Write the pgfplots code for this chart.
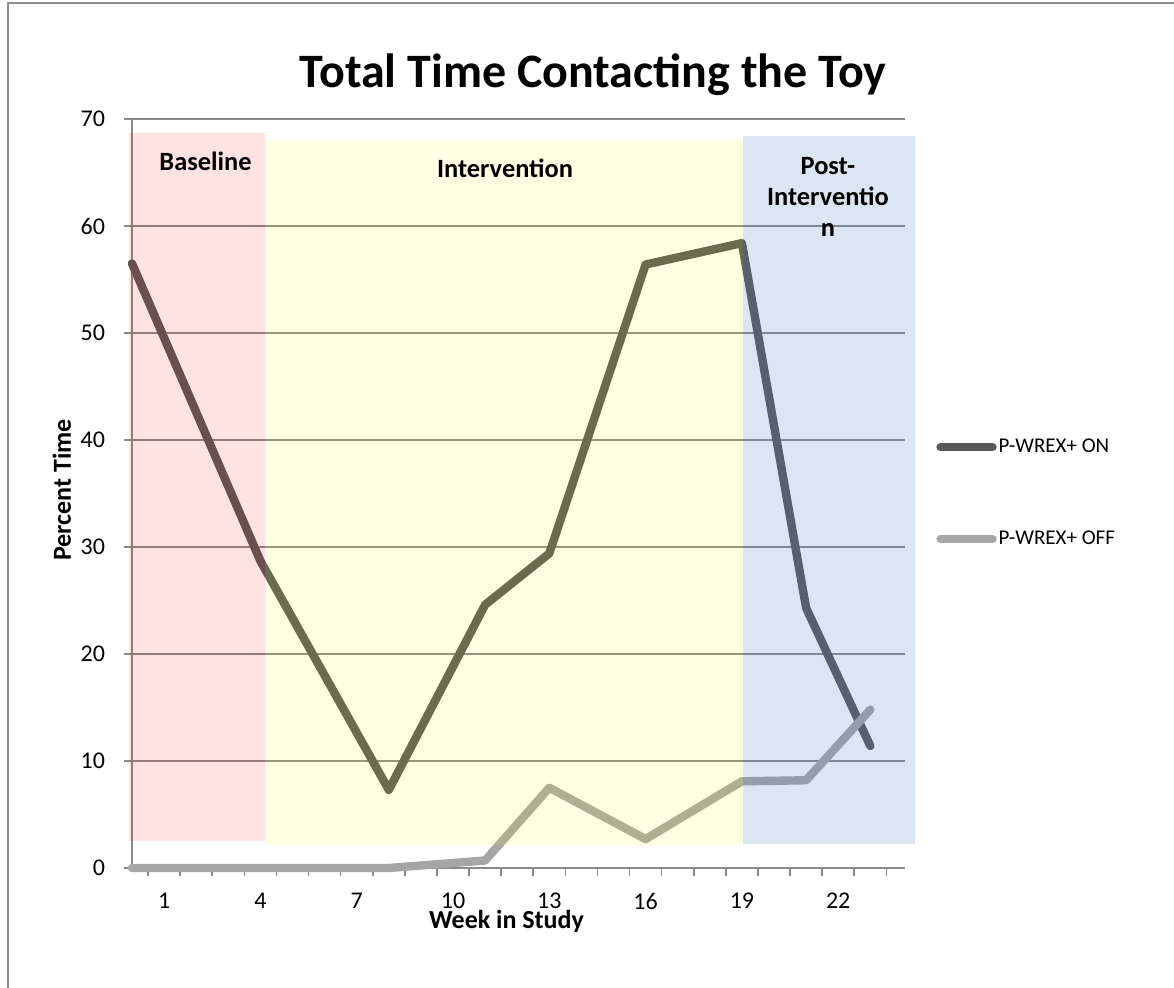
\documentclass[border=0pt]{standalone}
\usepackage{fontspec}
\setmainfont{Carlito}
\usepackage{pgfplots}
\pgfplotsset{compat=1.18}
\usepackage{pgfplotstable}
\definecolor{onc}{HTML}{595959}
\definecolor{offc}{HTML}{A6A6A6}
\definecolor{gridc}{HTML}{8A8A8A}
\definecolor{pinkc}{HTML}{FF0000}
\definecolor{yelc}{HTML}{FFFF00}
\definecolor{bluec}{HTML}{4F81BD}
\definecolor{framec}{HTML}{8C8C8C}

\pgfplotstableread{
week pct
0 56.5
4 28.7
8 7.3
11 24.6
13 29.4
16 56.4
19 58.4
21 24.3
23 11.4
}\onData

\pgfplotstableread{
week pct
0 0
4 0
8 0
11 0.7
13 7.5
16 2.7
19 8.1
21 8.2
23 14.8
}\offData

\begin{document}
\begin{tikzpicture}
\path[use as bounding box] (0,0) rectangle (587pt,494pt);
\draw[framec, line width=1pt] (4pt,0pt) -- (4pt,492.5pt) -- (587pt,492.5pt);
\node[font=\bfseries\fontsize{24}{28}\selectfont, anchor=base] at (296.5pt,450pt) {Total Time Contacting the Toy};
\begin{axis}[
  at={(66pt,60pt)}, anchor=south west,
  scale only axis, width=386.5pt, height=374.5pt,
  xmin=0, xmax=24.08, ymin=0, ymax=70,
  clip=false,
  axis x line*=bottom, axis y line*=left,
  axis line style={gridc, line width=0.8pt, -},
  xtick={0.5,1.5,...,23.5},
  xticklabels={},
  extra x ticks={1,4,7,10,13,16,19,22},
  extra x tick labels={1,4,7,10,13,16,19,22},
  extra x tick style={major tick length=0pt, grid=none},
  ytick={0,10,...,70},
  tick align=outside,
  major tick length=4pt,
  tick style={gridc, line width=0.8pt},
  ymajorgrids, grid style={gridc, line width=0.8pt},
  /pgf/number format/assume math mode=true,
  ticklabel style={font=\fontsize{12}{14}\selectfont},
  xticklabel style={yshift=-9pt},
  yticklabel style={xshift=-6pt},
  xlabel={Week in Study},
  xlabel style={at={(axis description cs:0.4845,-0.0708)}, anchor=center, font=\bfseries\fontsize{13}{15}\selectfont},
  ylabel={Percent Time},
  ylabel style={at={(axis description cs:-0.0906,0.5047)}, anchor=center, font=\bfseries\fontsize{13}{15}\selectfont},
  legend style={at={(axis description cs:1.04,0.576)}, anchor=north west, draw=none, fill=none,
    font=\fontsize{10.5}{12}\selectfont, row sep=35.5pt, inner sep=0pt, nodes={inner sep=1pt}},
  legend cell align=left,
  legend image code/.code={\draw[#1, line cap=round] (0pt,0pt) -- (26pt,0pt);},
]
\addplot[onc, line width=4.2pt, line cap=round, line join=round] table[x=week,y=pct] {\onData};
\addlegendentry{P-WREX+ ON}
\addplot[offc, line width=4.2pt, line cap=round, line join=round] table[x=week,y=pct] {\offData};
\addlegendentry{P-WREX+ OFF}
\fill[pinkc, fill opacity=0.11] (axis cs:-0.09,2.5) rectangle (axis cs:4.14,68.7);
\fill[yelc, fill opacity=0.11] (axis cs:4.14,2.15) rectangle (axis cs:19.03,68.0);
\fill[bluec, fill opacity=0.2] (axis cs:19.03,2.25) rectangle (axis cs:24.39,68.4);
\node[font=\bfseries\fontsize{13.2}{15}\selectfont] at (axis cs:2.29,66.0) {Baseline};
\node[font=\bfseries\fontsize{13.2}{15}\selectfont] at (axis cs:11.62,65.4) {Intervention};
\node[font=\bfseries\fontsize{13.2}{15.5}\selectfont, align=center] at (axis cs:21.68,62.7) {Post-\\Interventio\\n};
\end{axis}
\end{tikzpicture}
\end{document}
